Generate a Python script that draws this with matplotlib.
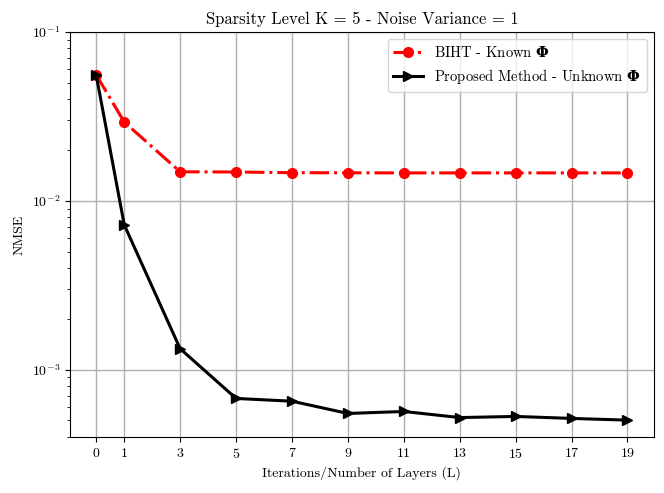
import numpy as np
import matplotlib
matplotlib.use('Agg')
import matplotlib.pyplot as plt

plt.rcParams['font.family'] = 'serif'
plt.rcParams['font.serif'] = ['cmr10']
plt.rcParams['mathtext.fontset'] = 'custom'
plt.rcParams['mathtext.rm'] = 'cmr10'
plt.rcParams['mathtext.it'] = 'cmmi10'
plt.rcParams['mathtext.bf'] = 'DejaVu Serif:bold'
plt.rcParams['mathtext.fallback'] = 'cm'
plt.rcParams['axes.formatter.use_mathtext'] = True

layers = [0, 1, 3, 5, 7, 9, 11, 13, 15, 17, 19]
nmse_biht = [0.0557, 0.0293, 0.01486, 0.01482, 0.01468, 0.01466, 0.01464, 0.01464, 0.01464, 0.01464, 0.01464]
nmse_proposed = [0.0553, 0.00721, 0.00133, 6.75e-4, 6.5e-4, 5.5e-4, 5.65e-4, 5.2e-4, 5.28e-4, 5.14e-4, 5.02e-4]

fig = plt.figure(figsize=(6.64, 4.93), dpi=100)
ax = fig.add_axes([0.105, 0.114, 0.88, 0.821])

ax.semilogy(layers, nmse_biht, 'r-.o', linewidth=2.2, markersize=7,
            label=r'BIHT - Known $\mathbf{\Phi}$')
ax.semilogy(layers, nmse_proposed, 'k->', linewidth=2.2, markersize=7,
            label=r'Proposed Method - Unknown $\mathbf{\Phi}$')

ax.set_xticks(layers)
ax.set_ylim(4.0e-4, 1e-1)
ax.grid(True, which='major', color='#b0b0b0', linewidth=1)
ax.set_xlabel('Iterations/Number of Layers (L)')
ax.set_ylabel('NMSE')
ax.set_title('Sparsity Level K = 5 - Noise Variance = 1')
ax.legend(loc='upper right', prop={'size': 10.5})

fig.savefig('out.png', dpi=100)
